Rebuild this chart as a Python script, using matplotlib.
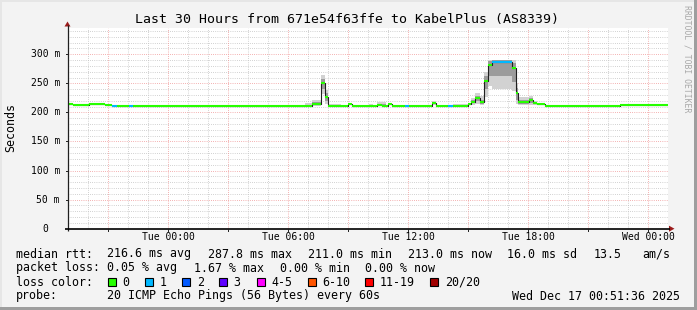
import matplotlib
matplotlib.use('Agg')
import matplotlib.pyplot as plt
from matplotlib.patches import Rectangle, Polygon
import numpy as np

# ---------------- data ----------------
# time in hours relative to Tue 00:00
hour_edges = [-5.04, -4.77, -3.97, -3.17, -2.82, -2.57, -1.97, -1.77, 6.84, 7.19,
              7.61, 7.84, 7.99, 8.44, 8.64, 8.99, 9.19, 10.04, 10.24, 10.44,
              10.69, 10.89, 10.99, 11.19, 11.84, 12.04, 13.19, 13.39, 13.99, 14.24,
              14.99, 15.14, 15.34, 15.59, 15.79, 15.99, 16.19, 17.19, 17.39, 17.49,
              18.04, 18.24, 18.44, 18.84, 22.59, 25.0]
median_ms = [214.7, 213.4, 214.7, 213.4, 211.6, 211.6, 211.6, 211.6, 211.6, 215.0,
             250.0, 227.0, 211.6, 211.6, 211.6, 214.0, 211.6, 211.6, 211.6, 213.5,
             211.6, 211.6, 214.0, 211.6, 211.6, 211.6, 216.0, 211.6, 211.6, 211.6,
             214.6, 218.6, 225.0, 217.6, 254.0, 282.0, 286.5, 276.0, 233.0, 218.6,
             221.5, 216.0, 214.6, 211.6, 213.4]
smoke_lo = [213.0, 212.0, 213.0, 212.0, 211.0, 211.0, 211.0, 211.0, 211.0, 211.0,
            232.0, 214.0, 211.0, 211.0, 211.0, 212.0, 211.0, 211.0, 211.0, 211.0,
            211.0, 211.0, 212.0, 211.0, 211.0, 211.0, 212.0, 211.0, 211.0, 211.0,
            212.0, 213.0, 215.0, 213.0, 227.0, 245.0, 240.0, 236.0, 214.0, 212.0,
            213.0, 213.0, 212.0, 211.0, 212.0]
smoke_hi = [216.0, 215.0, 216.0, 215.0, 213.0, 213.0, 213.0, 213.0, 216.0, 222.0,
            265.0, 239.0, 214.0, 215.0, 213.0, 217.0, 213.0, 215.0, 213.0, 218.0,
            218.0, 213.0, 216.0, 213.0, 213.0, 213.0, 220.0, 213.0, 213.0, 214.0,
            217.0, 224.0, 234.0, 229.0, 270.0, 290.0, 291.0, 290.0, 250.0, 227.0,
            228.0, 220.0, 216.0, 213.0, 215.0]
smoke_inner_lo = [214.7, 213.4, 214.7, 213.4, 211.6, 211.6, 211.6, 211.6, 211.6, 213.0,
                  240.0, 220.0, 211.6, 211.6, 211.6, 214.0, 211.6, 211.6, 211.6, 213.5,
                  211.6, 211.6, 214.0, 211.6, 211.6, 211.6, 216.0, 211.6, 211.6, 211.6,
                  214.6, 216.0, 219.0, 215.0, 240.0, 262.0, 262.0, 252.0, 222.0, 215.0,
                  217.0, 214.0, 214.6, 211.6, 213.4]
smoke_inner_hi = [214.7, 213.4, 214.7, 213.4, 211.6, 211.6, 211.6, 211.6, 213.0, 218.0,
                  258.0, 233.0, 211.6, 211.6, 211.6, 215.0, 211.6, 211.6, 211.6, 215.0,
                  214.0, 211.6, 215.0, 211.6, 211.6, 211.6, 218.0, 211.6, 211.6, 211.6,
                  215.0, 221.0, 229.0, 222.0, 262.0, 288.0, 290.0, 285.0, 242.0, 222.0,
                  225.0, 218.0, 215.0, 211.6, 213.4]
loss_idx = [0, 0, 0, 0, 1, 0, 1, 0, 0, 0,
            0, 0, 0, 0, 0, 0, 0, 0, 0, 0,
            0, 0, 0, 0, 1, 0, 0, 0, 1, 0,
            0, 0, 0, 0, 0, 0, 1, 0, 0, 0,
            0, 0, 0, 0, 0]

loss_labels = ['0', '1', '2', '3', '4-5', '6-10', '11-19', '20/20']
loss_colors = ['#26ff00', '#00b8ff', '#0059ff', '#5e00ff', '#ff00ff', '#ff5500', '#ff0000', '#a10000']

x_tick_hours = [0, 6, 12, 18, 24]
x_tick_labels = ['Tue 00:00', 'Tue 06:00', 'Tue 12:00', 'Tue 18:00', 'Wed 00:00']
y_tick_vals = [0, 50, 100, 150, 200, 250, 300]
y_tick_labels = ['0', '50 m', '100 m', '150 m', '200 m', '250 m', '300 m']

title = 'Last 30 Hours from 671e54f63ffe to KabelPlus (AS8339)'
legend_rows = [
    [('median rtt:', 16), ('216.6 ms avg', 107.1), ('287.8 ms max', 207.6), ('211.0 ms min', 307.6),
     ('213.0 ms now', 407.6), ('16.0 ms sd', 506.7), ('13.5', 593.3), ('am/s', 642.2)],
    [('packet loss:', 16), ('0.05 % avg', 107.1), ('1.67 % max', 193.5), ('0.00 % min', 280.0),
     ('0.00 % now', 365.3)],
]
probe_text = '20 ICMP Echo Pings (56 Bytes) every 60s'
date_text = 'Wed Dec 17 00:51:36 2025'

# ---------------- figure ----------------
W, H, DPI = 697, 310, 100
MONO = 'DejaVu Sans Mono'
fig = plt.figure(figsize=(W / DPI, H / DPI), dpi=DPI, facecolor='#f3f3f3')

AX_L, AX_R, AX_T, AX_B = 67.5, 668.3, 28.3, 228.7
ax = fig.add_axes([AX_L / W, 1 - AX_B / H, (AX_R - AX_L) / W, (AX_B - AX_T) / H])
ax.set_facecolor('white')
ax.set_xlim(-5.04, 25.0)
ax.set_ylim(0, 344.7)
for s in ax.spines.values():
    s.set_visible(False)
ax.set_xticks([])
ax.set_yticks([])

dots = (0, (0.72, 1.44))
for v in range(10, 341, 10):
    if v % 50:
        ax.axhline(v, color='#c4c4c4', lw=0.72, ls=dots, zorder=0)
for h in range(-5, 25):
    if h % 3:
        ax.axvline(h, color='#c4c4c4', lw=0.72, ls=dots, zorder=0)
for v in range(50, 341, 50):
    ax.axhline(v, color='#f09a9a', lw=0.72, ls=dots, zorder=0.5)
for h in range(-3, 25, 3):
    ax.axvline(h, color='#f09a9a', lw=0.72, ls=dots, zorder=0.5)

edges = np.array(hour_edges)
def ext(a):
    a = list(a)
    return np.array(a + [a[-1]])

ax.fill_between(edges, ext(smoke_lo), ext(smoke_hi), step='post', color='#d2d2d2', lw=0, zorder=1)
ax.fill_between(edges, ext(smoke_inner_lo), ext(smoke_inner_hi), step='post', color='#9c9c9c', lw=0, zorder=1.1)
ax.step(edges, ext(median_ms), where='post', color='#202020', lw=0.8, zorder=2)
for i in range(len(median_ms)):
    ax.hlines(median_ms[i], edges[i], edges[i + 1], color=loss_colors[loss_idx[i]], lw=1.5, zorder=3,
              capstyle='butt')

# ------------- overlay in pixel coordinates -------------
ov = fig.add_axes([0, 0, 1, 1], facecolor='none')
ov.set_xlim(0, W)
ov.set_ylim(H, 0)
ov.axis('off')

# shading border
ov.add_patch(Rectangle((0, 0), W, 2, color='#e6e6e6', lw=0))
ov.add_patch(Rectangle((0, 0), 2, H, color='#e6e6e6', lw=0))
ov.add_patch(Rectangle((W - 3, 0), 3, H, color='#9e9e9e', lw=0))
ov.add_patch(Rectangle((0, H - 3), W, 3, color='#9e9e9e', lw=0))

# axes lines and arrows
ov.plot([AX_L, AX_L], [AX_B + 2, 25], color='#202020', lw=0.9, solid_capstyle='butt')
ov.plot([AX_L - 2.5, 670], [AX_B, AX_B], color='#000000', lw=1.2, solid_capstyle='butt')
ov.add_patch(Polygon([[AX_L - 3, 26.5], [AX_L + 3, 26.5], [AX_L, 21.5]], closed=True, color='#9b1b1b', lw=0))
ov.add_patch(Polygon([[669, AX_B - 3], [669, AX_B + 3], [674.5, AX_B]], closed=True, color='#9b1b1b', lw=0))

# ticks
def px_x(h):
    return AX_L + (h - (-5.04)) / 30.04 * (AX_R - AX_L)
def px_y(v):
    return AX_B - v / 344.7 * (AX_B - AX_T)

for h in range(-3, 25, 3):
    ov.plot([px_x(h), px_x(h)], [AX_B, AX_B + 2], color='#202020', lw=0.7)
for v in y_tick_vals[1:]:
    ov.plot([AX_L - 2, AX_L], [px_y(v), px_y(v)], color='#202020', lw=0.7)

# tick labels
for h, lab in zip(x_tick_hours, x_tick_labels):
    ov.text(px_x(h), 237.5, lab, ha='center', va='center', family=MONO, fontsize=7.05, color='#000000')
for v, lab in zip(y_tick_vals, y_tick_labels):
    xr = 60 if v else 48
    ov.text(xr, px_y(v), lab, ha='right', va='center', family=MONO, fontsize=7.05, color='#000000')

# title, y label, watermark
ov.text(347, 19.3, title, ha='center', va='center', family=MONO, fontsize=9.5, color='#000000')
ov.text(10.3, 127, 'Seconds', ha='center', va='center', rotation=90, family=MONO, fontsize=8.35)
ov.text(686.7, 5, 'RRDTOOL / TOBI OETIKER', ha='center', va='top', rotation=-90, family=MONO,
        fontsize=5.9, color='#a8a8a8')

# legend
row_y = [254, 268, 282.3, 296]
for r, items in enumerate(legend_rows):
    for txt, x in items:
        ov.text(x, row_y[r], txt, ha='left', va='center', family=MONO, fontsize=8.35)

ov.text(16, row_y[2], 'loss color:', ha='left', va='center', family=MONO, fontsize=8.35)
sw_x = [108.0, 145.3, 182.2, 219.1, 256.9, 307.6, 365.3, 430.2]
for lab, col, x in zip(loss_labels, loss_colors, sw_x):
    ov.add_patch(Rectangle((x, row_y[2] - 4), 8, 8, facecolor=col, edgecolor='#000000', lw=0.8))
    ov.text(x + 14.5, row_y[2], lab, ha='left', va='center', family=MONO, fontsize=8.35)

ov.text(16, row_y[3], 'probe:', ha='left', va='center', family=MONO, fontsize=8.35)
ov.text(107.1, row_y[3], probe_text, ha='left', va='center', family=MONO, fontsize=8.35)
ov.text(680, row_y[3], date_text, ha='right', va='center', family=MONO, fontsize=8.35)

fig.savefig('out.png', dpi=DPI, facecolor=fig.get_facecolor())
